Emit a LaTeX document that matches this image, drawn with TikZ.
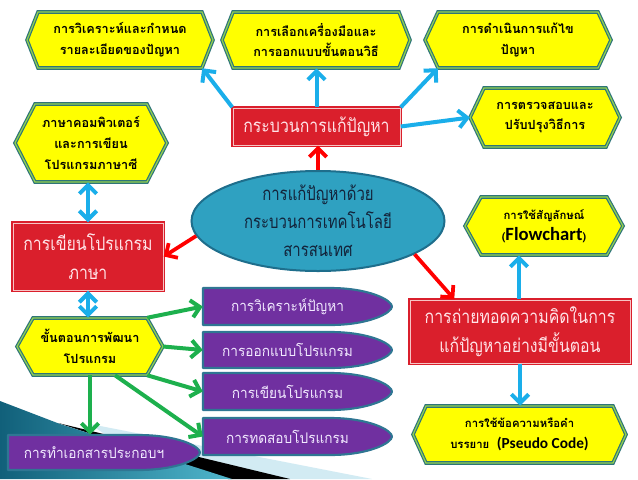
\documentclass[tikz,border=0pt]{standalone}
\usepackage{fontspec}
\newfontfamily\loma[Script=Thai]{Loma}
\newfontfamily\lomared[Script=Thai, FakeStretch=0.85]{Loma}
\newfontfamily\lomaell[Script=Thai, FakeStretch=0.8]{Loma}
\newfontfamily\lomapur[Script=Thai, FakeStretch=0.93]{Loma}
\newfontfamily\latb{Carlito}
\usetikzlibrary{arrows.meta,shadows,calc,shapes.geometric}
\definecolor{hexfill}{HTML}{FFFF00}
\definecolor{hexout}{HTML}{2E7579}
\definecolor{hexin}{HTML}{92D050}
\definecolor{boxred}{HTML}{DA1F2C}
\definecolor{boxline}{HTML}{F7C4C4}
\definecolor{redtext}{HTML}{FFE4E8}
\definecolor{elfill}{HTML}{2FA1C1}
\definecolor{elline}{HTML}{1E6E8C}
\definecolor{eltextc}{HTML}{13233A}
\definecolor{purp}{HTML}{7030A0}
\definecolor{purpline}{HTML}{2F7693}
\definecolor{purptextc}{HTML}{F2EAFF}
\definecolor{arblue}{HTML}{1AAEEA}
\definecolor{arred}{HTML}{FF0000}
\definecolor{argreen}{HTML}{1DB04D}
\definecolor{tealdark}{HTML}{11607A}
\definecolor{teallight}{HTML}{4FB6CC}
\definecolor{skyband}{HTML}{D2EBF3}

\tikzset{
  hexshape/.style={fill=hexfill, draw=hexout, line width=0.9pt, double=hexin, double distance=0.9pt, line join=miter},
  hextext/.style={inner sep=0pt, align=center, text=black, font=\loma\bfseries\fontsize{9.5}{15.5}\selectfont},
  hexsmall/.style={hextext, font=\loma\bfseries\fontsize{8.5}{15.5}\selectfont},
  redbox/.style={rectangle, fill=boxred, draw=boxred, line width=1.1pt, double=boxline, double distance=0.6pt,
     drop shadow={opacity=0.3, shadow xshift=1.2pt, shadow yshift=-1.2pt},
     text=redtext, align=center, inner sep=0pt, font=\lomared\fontsize{14}{22}\selectfont},
  elshape/.style={ellipse, fill=elfill, draw=elline, line width=1.5pt, inner sep=0pt},
  eltext/.style={align=center, text=eltextc, inner sep=0pt, font=\lomaell\fontsize{14}{21}\selectfont},
  purpshape/.style={fill=purp, draw=purpline, line width=1.6pt, line join=round},
  purptext/.style={inner sep=0pt, align=center, text=purptextc, font=\lomapur\fontsize{11}{14}\selectfont},
  tipb/.tip={Straight Barb[length=6.5pt,width=13pt]},
  bluearr/.style={draw=arblue, line width=3pt, -tipb},
  bluedbl/.style={draw=arblue, line width=3pt, tipb-tipb},
  redarr/.style={draw=arred, line width=2.8pt, -tipb},
  greenarr/.style={draw=argreen, line width=3pt, -tipb},
}

\newcommand\hexnode[8]{% #1 name, #2 cx, #3 cy, #4 halfflat, #5 halfh, #6 tip, #7 style, #8 text
  \path[hexshape] ({#2-#4-#6},#3) -- ({#2-#4},{#3-#5}) -- ({#2+#4},{#3-#5}) -- ({#2+#4+#6},#3)
     -- ({#2+#4},{#3+#5}) -- ({#2-#4},{#3+#5}) -- cycle;
  \node[#7, minimum width={#4*1.5pt}, minimum height={#5*1.5pt}] (#1) at (#2,#3) {#8};
  \coordinate (#1-l) at ({#2-#4-#6},#3);
  \coordinate (#1-r) at ({#2+#4+#6},#3);
}
\newcommand\purpnode[6]{% #1 name, #2 L, #3 T, #4 R, #5 B, #6 text
  \path[purpshape] (#2,#3) -- ({#4-62},#3) .. controls ({#4-22},#3) and (#4,{(#3+#5)/2-6}) .. (#4,{(#3+#5)/2})
     .. controls (#4,{(#3+#5)/2+6}) and ({#4-22},#5) .. ({#4-62},#5) -- (#2,#5) -- cycle;
  \node[purptext, minimum width={(#4-#2-20)*0.75pt}, minimum height={(#5-#3)*0.75pt}] (#1) at ({(#2+#4)/2-10},{(#3+#5)/2}) {#6};
}

\begin{document}
\begin{tikzpicture}[x=0.75pt, y=-0.75pt]
\useasboundingbox (0,0) rectangle (638,479);
\fill[white] (0,0) rectangle (638,479);

% bottom-left decoration
\fill[skyband] (90,424) -- (372,479) -- (170,479) -- cycle;
\fill[black] (58,423) -- (290,479) -- (228,479) -- cycle;
\shade[left color=tealdark, right color=teallight] (0,401) -- (60,424) -- (232,479) -- (0,479) -- cycle;

% yellow hexagons
\hexnode{H1}{120}{40}{82}{28}{11}{hextext}{การวิเคราะห์และกำหนด\\รายละเอียดของปัญหา}
\hexnode{H2}{316}{40}{83}{28}{11}{hextext}{การเลือกเครื่องมือและ\\การออกแบบขั้นตอนวิธี}
\hexnode{H3}{518}{40}{80}{28}{13}{hextext}{การดำเนินการแก้ไข\\ปัญหา}
\hexnode{H4}{545}{117.5}{61}{29.5}{14}{hextext}{การตรวจสอบและ\\ปรับปรุงวิธีการ}
\hexnode{H5}{91}{143}{56}{39}{20}{hextext}{ภาษาคอมพิวเตอร์\\และการเขียน\\โปรแกรมภาษาซี}
\hexnode{H6}{544}{226}{63}{29}{16}{hexsmall}{การใช้สัญลักษณ์\\{\fontsize{8}{10}\selectfont(}{\latb\bfseries\fontsize{14}{15}\selectfont Flowchart}{\fontsize{8}{10}\selectfont)}}
\hexnode{H7}{519.5}{434.5}{93.5}{28.5}{13}{hexsmall}{การใช้ข้อความหรือคำ\\บรรยาย\ \ {\latb\bfseries\fontsize{11.5}{14}\selectfont(Pseudo Code)}}
\hexnode{H8}{90}{346.5}{57}{28.5}{16}{hextext}{ขั้นตอนการพัฒนา\\โปรแกรม}

% red boxes
\node[redbox, minimum width=125.25pt, minimum height=27.75pt] (R1) at (316.5,126.5) {กระบวนการแก้ปัญหา};
\node[redbox, minimum width=112.5pt, minimum height=50.25pt] (R2) at (88,256.5) {การเขียนโปรแกรม\\ภาษา};
\node[redbox, minimum width=165pt, minimum height=47.25pt] (R3) at (520,331.5) {การถ่ายทอดความคิดในการ\\แก้ปัญหาอย่างมีขั้นตอน};

% central ellipse
\node[elshape, minimum width=189.75pt, minimum height=75pt] (E) at (318,221) {};
\node[eltext] (Et) at (E.center) {การแก้ปัญหาด้วย\\กระบวนการเทคโนโลยี\\สารสนเทศ};

% purple shapes
\purpnode{P1}{203}{288}{392}{325}{การวิเคราะห์ปัญหา}
\purpnode{P2}{203}{332}{392}{368}{การออกแบบโปรแกรม}
\purpnode{P3}{203}{373}{392}{410}{การเขียนโปรแกรม}
\purpnode{P4}{203}{418}{392}{455}{การทดสอบโปรแกรม}
\purpnode{P5}{8}{435}{200}{470}{การทำเอกสารประกอบฯ}

% blue arrows
\draw[bluearr] (R1.north west) -- (H1.south east);
\draw[bluearr] (R1.north) -- (R1.north |- H2.south);
\draw[bluearr] (R1.north east) -- (H3.south west);
\draw[bluearr] (R1.east) -- (H4-l);
\draw[bluedbl] (R2.north) -- (R2.north |- H5.south);
\draw[bluedbl] (R2.south) -- (R2.south |- H8.north);
\draw[bluearr] ($(R3.north)+(-1,0)$) -- ($(R3.north |- H6.south)+(-1,0)$);
\draw[bluearr] (R3.south) -- (R3.south |- H7.north);

% red arrows
\draw[redarr] (E.north) -- (E.north |- R1.south);
\draw[redarr] (E.187) -- (R2.east);
\draw[redarr] (E.341) -- ($(R3.north west)+(45,0)$);

% green arrows
\draw[greenarr] (H8.north east) -- (P1.west);
\draw[greenarr] (H8-r) -- (P2.west);
\draw[greenarr] (H8.south east) -- (P3.west);
\draw[greenarr] ($(H8.south)+(25,0)$) -- (P4.west);
\draw[greenarr] (H8.south) -- (H8.south |- P5.north);
\end{tikzpicture}
\end{document}
